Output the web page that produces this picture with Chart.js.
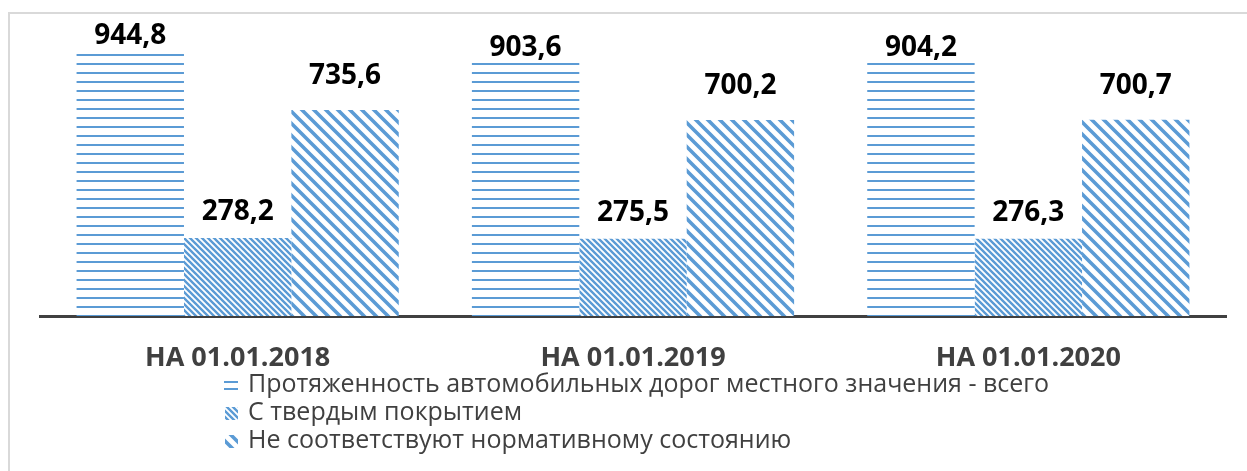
<!DOCTYPE html>
<html>
<head>
<meta charset="utf-8">
<script src="https://cdn.jsdelivr.net/npm/chart.js@4.4.1/dist/chart.umd.min.js"></script>
<style>
  body { margin: 0; background: #fff; }
  #frame { position: absolute; left: 8px; top: 12px; width: 1300px; height: 500px; border: 2px solid #d9d9d9; box-sizing: border-box; }
  #myChart { position: absolute; left: 0; top: 0; }
</style>
</head>
<body>
<div id="frame"></div>
<canvas id="myChart" width="1247" height="471"></canvas>
<script>
// data
var categories = ['НА 01.01.2018', 'НА 01.01.2019', 'НА 01.01.2020'];
var seriesNames = [
    'Протяженность автомобильных дорог местного значения - всего',
    'С твердым покрытием',
    'Не соответствуют нормативному состоянию'
];
var totalRoads = [944.8, 903.6, 904.2];
var pavedRoads = [278.2, 275.5, 276.3];
var badRoads = [735.6, 700.2, 700.7];

var blue = '#5b9bd5';
var labelOffsets = [15, 26, 34];

function makeTile(size, draw) {
    var c = document.createElement('canvas');
    c.width = size; c.height = size;
    var g = c.getContext('2d');
    g.fillStyle = '#fff';
    g.fillRect(0, 0, size, size);
    g.strokeStyle = blue;
    g.fillStyle = blue;
    draw(g, size);
    return c;
}

function diag(width) {
    return function(g, s) {
        g.lineWidth = width;
        g.beginPath();
        for (var k = -2; k <= 2; k++) {
            g.moveTo(k * s - s, -s);
            g.lineTo(k * s + 2 * s, 2 * s);
        }
        g.stroke();
    };
}

var tiles = [
    makeTile(9, function(g, s) { g.fillRect(0, 0, s, 2); }),
    makeTile(6, diag(2.4)),
    makeTile(12, diag(3.6))
];

var ctx = document.getElementById('myChart').getContext('2d');
var patterns = tiles.map(function(t) { return ctx.createPattern(t, 'repeat'); });

var valueLabels = {
    id: 'valueLabels',
    afterDatasetsDraw: function(chart) {
        var c = chart.ctx;
        c.save();
        c.font = 'bold 28px "Open Sans", sans-serif';
        c.fillStyle = '#000';
        c.textAlign = 'center';
        c.textBaseline = 'middle';
        chart.data.datasets.forEach(function(ds, i) {
            chart.getDatasetMeta(i).data.forEach(function(bar, j) {
                c.fillText(ds.data[j].toFixed(1).replace('.', ','), bar.x, bar.y - labelOffsets[i]);
            });
        });
        c.restore();
    }
};

var legendBox = {
    id: 'legendBox',
    afterDraw: function(chart) {
        var c = chart.ctx;
        var ys = [385, 413, 441];
        c.save();
        c.font = '25px "Open Sans", sans-serif';
        c.textBaseline = 'middle';
        chart.data.datasets.forEach(function(ds, i) {
            var y = ys[i];
            if (i == 0) {
                c.fillStyle = blue;
                c.fillRect(224, y - 4, 14, 2);
                c.fillRect(224, y + 3, 14, 2);
            } else {
                c.fillStyle = patterns[i];
                c.fillRect(225, y - 6, 13, 13);
            }
            c.fillStyle = '#404040';
            c.fillText(ds.label, 248, y);
        });
        c.restore();
    }
};

var myChart = new Chart(ctx, {
    type: 'bar',
    data: {
        labels: categories,
        datasets: [
            { label: seriesNames[0], data: totalRoads, backgroundColor: patterns[0] },
            { label: seriesNames[1], data: pavedRoads, backgroundColor: patterns[1] },
            { label: seriesNames[2], data: badRoads, backgroundColor: patterns[2] }
        ]
    },
    options: {
        responsive: false,
        animation: false,
        categoryPercentage: 0.815,
        barPercentage: 1,
        layout: { padding: { left: 40, right: 21, top: 36, bottom: 0 } },
        plugins: {
            legend: { display: false },
            tooltip: { enabled: false }
        },
        scales: {
            x: {
                grid: { display: false, drawTicks: false },
                border: { display: true, color: '#404040', width: 3 },
                ticks: {
                    padding: 26,
                    color: '#404040',
                    font: { family: '"Open Sans", sans-serif', size: 27, weight: 'bold' }
                },
                afterFit: function(scale) { scale.height = 155; }
            },
            y: {
                display: false,
                min: 0,
                max: 1000
            }
        }
    },
    plugins: [valueLabels, legendBox]
});
</script>
</body>
</html>
